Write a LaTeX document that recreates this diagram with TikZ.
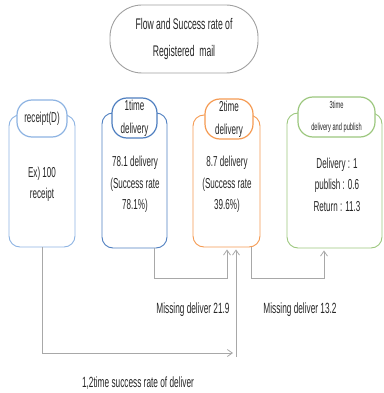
\documentclass[tikz,border=0pt]{standalone}
\usepackage{fontspec}
\setmainfont[FakeStretch=0.56]{Liberation Sans}
\usetikzlibrary{arrows.meta}
\definecolor{cRec}{HTML}{8DB3E2}
\definecolor{cOne}{HTML}{4F7FC0}
\definecolor{cTwo}{HTML}{F59A52}
\definecolor{cThree}{HTML}{9CC77E}
\definecolor{cLine}{HTML}{A8A8A8}
\definecolor{cTitle}{HTML}{A0A0A0}
\definecolor{cText}{HTML}{262626}
\begin{document}
\begin{tikzpicture}[x=1pt,y=-1pt,
  outerbox/.style={draw,rectangle,rounded corners=11pt,inner sep=0pt,line width=0.9pt},
  headbox/.style={draw,fill=white,rectangle,rounded corners=15pt,inner sep=0pt,line width=1.2pt,
    align=center,text=cText,font=\fontsize{14.4}{23}\selectfont},
  bodytext/.style={align=center,text=cText,inner sep=0pt,font=\fontsize{14.4}{21.5}\selectfont},
  lbl/.style={text=cText,inner sep=0pt,font=\fontsize{14.8}{18}\selectfont},
  conn/.style={draw=cLine,line width=0.8pt},
  tip/.style={-{Straight Barb[length=5pt,width=7pt]}}]
\useasboundingbox (0,0) rectangle (383,393);
% title
\node[draw=cTitle,rectangle,rounded corners=32pt,line width=0.9pt,minimum width=148pt,minimum height=68pt,
  align=center,text=cText,font=\fontsize{15.4}{27}\selectfont] (title) at (184,39)
  {Flow and Success rate of\\Registered\ \ mail};
% boxes
\node[outerbox,draw=cRec,minimum width=66pt,minimum height=132pt] (b0) at (42,181) {};
\node[outerbox,draw=cOne,minimum width=65pt,minimum height=135pt] (b1) at (134.5,180.5) {};
\node[outerbox,draw=cTwo,minimum width=67pt,minimum height=132pt] (b2) at (226.5,181) {};
\node[outerbox,draw=cThree,minimum width=95pt,minimum height=135pt] (b3) at (334.5,180.5) {};
% headers
\node[headbox,draw=cRec,minimum width=50pt,minimum height=37pt] (h0) at (42,118.5) {receipt(D)};
\node[headbox,draw=cOne,minimum width=45pt,minimum height=40pt] (h1) at (134.5,118) {1time\\delivery};
\node[headbox,draw=cTwo,minimum width=48pt,minimum height=40pt] (h2) at (229,119) {2time\\delivery};
\node[headbox,draw=cThree,minimum width=77pt,minimum height=40pt,font=\fontsize{10.2}{22}\selectfont] (h3) at (336.5,117) {3time\\delivery and publish};
% body texts
\node[bodytext] (t0) at (42,184.5) {Ex) 100\\receipt};
\node[bodytext] (t1) at (135,184.5) {78.1 delivery\\(Success rate\\78.1\%)};
\node[bodytext] (t2) at (227,184.5) {8.7 delivery\\(Success rate\\39.6\%)};
\node[bodytext] (t3) at (337,184.5) {Delivery : 1\\publish : 0.6\\Return : 11.3};
% connectors
\coordinate (r1) at (233,353);
\coordinate (r2) at (236,357);
\coordinate (k1) at (154,278);
\coordinate (k2) at (227,278);
\coordinate (m1) at (251,278);
\coordinate (m2) at (324,278);
\draw[conn,tip] (b0.south) |- (r1);
\draw[conn,tip,shorten >=2pt] (r2) -- (r2 |- b2.south);
\draw[conn,tip,shorten >=2pt] (k1 |- b1.south) -- (k1) -- (k2) -- (k2 |- b2.south);
\draw[conn,tip,shorten >=2pt] (m1 |- b2.south) -- (m1) -- (m2) -- (m2 |- b3.south);
% labels
\node[lbl] (l1) at (193,310) {Missing deliver 21.9};
\node[lbl] (l2) at (300,310) {Missing deliver 13.2};
\node[lbl] (l3) at (138,383) {1,2time success rate of deliver};
\end{tikzpicture}
\end{document}
